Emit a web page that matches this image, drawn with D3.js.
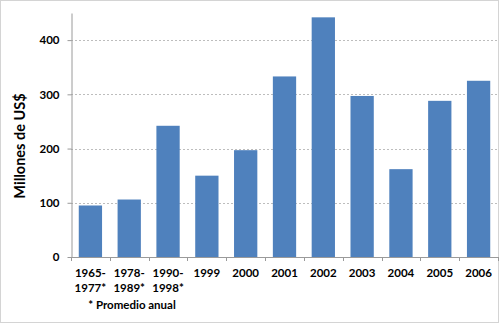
<!DOCTYPE html>
<html>
<head>
<meta charset="utf-8">
<script src="https://cdn.jsdelivr.net/npm/d3@7"></script>
<style>
  html, body { margin: 0; padding: 0; background: #fff; }
  svg { display: block; }
  text { font-family: Lato, "Open Sans", sans-serif; font-weight: bold; fill: #000; }
</style>
</head>
<body>
<svg id="chart" width="500" height="324"></svg>
<script>
// Annual amounts, millions of US$ (first three are yearly averages)
const categories = [["1965-", "1977*"], ["1978-", "1989*"], ["1990-", "1998*"], ["1999"], ["2000"],
                    ["2001"], ["2002"], ["2003"], ["2004"], ["2005"], ["2006"]];
const values = [95, 106, 242, 150, 197, 333, 442, 297, 162, 288, 325];
const yTicks = [0, 100, 200, 300, 400];
const yTitle = "Millones de US$";
const footnote = "* Promedio anual";

const svg = d3.select("#chart");
const W = 500, H = 324;
const m = { left: 71, right: 2, top: 13, bottom: 67 };

// outer frame
svg.append("rect")
  .attr("x", 0.5).attr("y", 0.5)
  .attr("width", W - 2).attr("height", H - 2)
  .attr("fill", "#fff").attr("stroke", "#d4d4d4");

const keys = categories.map(c => c.join(" "));
const x = d3.scaleBand().domain(keys).range([m.left, W - m.right]).paddingInner(0.4).paddingOuter(0.2);
const y = d3.scaleLinear().domain([0, 450]).range([H - m.bottom, m.top]);

// dashed gridlines
svg.append("g").selectAll("line").data(yTicks.filter(t => t > 0)).join("line")
  .attr("x1", m.left).attr("x2", W - m.right)
  .attr("y1", d => Math.round(y(d)) + 0.5).attr("y2", d => Math.round(y(d)) + 0.5)
  .attr("stroke", "#bdbdbd").attr("stroke-dasharray", "2,2");

// bars
svg.append("g").selectAll("rect").data(values).join("rect")
  .attr("x", (d, i) => x(keys[i]))
  .attr("width", x.bandwidth())
  .attr("y", d => y(d))
  .attr("height", d => y(0) - y(d))
  .attr("fill", "#4f81bd");

// y axis
const yAxis = svg.append("g")
  .attr("transform", `translate(${m.left + 0.5},0)`)
  .call(d3.axisLeft(y).tickValues(yTicks).tickSize(4).tickPadding(8).tickSizeOuter(0));
yAxis.select(".domain").attr("stroke", "#9a9a9a");
yAxis.selectAll(".tick line").attr("stroke", "#9a9a9a");
yAxis.selectAll(".tick text").attr("font-size", 11.5).attr("font-family", "Lato, sans-serif").attr("font-weight", "bold");

// x axis: tick marks sit between categories
const step = x.step();
const boundaries = d3.range(keys.length + 1).map(i => m.left + i * (W - m.right - m.left) / keys.length);
const xg = svg.append("g");
xg.append("line")
  .attr("x1", m.left).attr("x2", W - m.right)
  .attr("y1", Math.round(y(0)) + 0.5).attr("y2", Math.round(y(0)) + 0.5)
  .attr("stroke", "#9a9a9a");
xg.selectAll("line.tk").data(boundaries).join("line").attr("class", "tk")
  .attr("x1", d => Math.round(d) + 0.5).attr("x2", d => Math.round(d) + 0.5)
  .attr("y1", y(0)).attr("y2", y(0) + 4)
  .attr("stroke", "#9a9a9a");

// category labels
xg.selectAll("text").data(categories).join("text")
  .attr("text-anchor", "middle")
  .attr("font-size", 11.5)
  .attr("x", (d, i) => x(keys[i]) + x.bandwidth() / 2)
  .attr("y", y(0) + 20)
  .each(function(d) {
    d3.select(this).selectAll("tspan").data(d).join("tspan")
      .attr("x", d3.select(this).attr("x"))
      .attr("dy", (t, j) => j === 0 ? 0 : 15)
      .text(t => t);
  });

// footnote
svg.append("text")
  .attr("x", 132).attr("y", 309)
  .attr("text-anchor", "middle")
  .attr("font-size", 11.5)
  .text(footnote);

// y axis title
svg.append("text")
  .attr("transform", "translate(25,146) rotate(-90)")
  .attr("text-anchor", "middle")
  .attr("font-size", 14.5)
  .text(yTitle);
</script>
</body>
</html>
